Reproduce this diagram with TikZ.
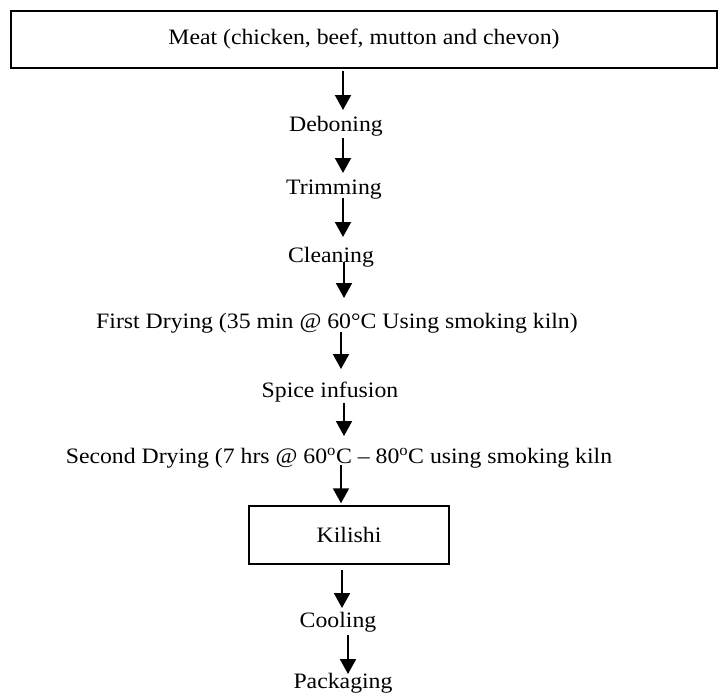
\documentclass[tikz,border=0pt]{standalone}
\usepackage{fontspec}
\setmainfont{Liberation Serif}[FakeStretch=1.08]
\usetikzlibrary{arrows.meta,calc}
\begin{document}
\begin{tikzpicture}[x=1pt,y=-1pt,
  txt/.style={font=\fontsize{22}{26}\selectfont},
  lbl/.style={txt, inner sep=0pt, anchor=base},
  boxed/.style={txt, draw, line width=1.5pt, inner sep=0pt},
  arr/.style={line width=2pt, -{Triangle[width=16pt,length=15pt]}}]
\useasboundingbox (0,0) rectangle (718,694);
\node[boxed, minimum width=706pt, minimum height=57pt] (meat) at (364,39.5) {Meat (chicken, beef, mutton and chevon)};
\node[lbl] (deb) at (336,131) {Deboning};
\node[lbl] (trim) at (334,194) {Trimming};
\node[lbl] (clean) at (331,262) {Cleaning};
\node[lbl] (first) at (337,328) {First Drying (35 min @ 60°C Using smoking kiln)};
\node[lbl] (spice) at (330,397) {Spice infusion};
\node[lbl] (second) at (339,463) {Second Drying (7 hrs @ 60\textsuperscript{o}C -- 80\textsuperscript{o}C using smoking kiln};
\node[boxed, minimum width=200pt, minimum height=58pt] (kil) at (349,535) {Kilishi};
\node[lbl] (cool) at (338,627) {Cooling};
\node[lbl] (pack) at (343,688) {Packaging};
\draw[arr] ($(meat.south)+(-21,2)$) -- ($(deb.base)+(7,-21)$);
\draw[arr] ($(deb.base)+(7,7)$) -- ($(trim.base)+(9,-21)$);
\draw[arr] ($(trim.base)+(9,4)$) -- ($(clean.base)+(12,-25)$);
\draw[arr] ($(clean.base)+(13,0)$) -- ($(first.base)+(7,-30)$);
\draw[arr] ($(first.base)+(4,4)$) -- ($(spice.base)+(11,-28)$);
\draw[arr] ($(spice.base)+(14,6)$) -- ($(second.base)+(5,-27)$);
\draw[arr] ($(second.base)+(2,2)$) -- ($(kil.north)+(-8,-2)$);
\draw[arr] ($(kil.south)+(-7,5)$) -- ($(cool.base)+(4,-19)$);
\draw[arr] ($(cool.base)+(10,8)$) -- ($(pack.base)+(5,-14)$);
\end{tikzpicture}
\end{document}
